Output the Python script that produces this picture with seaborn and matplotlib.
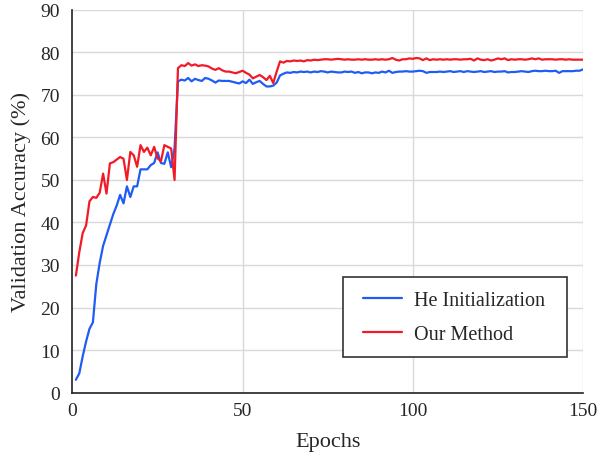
import numpy as np
import pandas as pd
import matplotlib
matplotlib.use("Agg")
import matplotlib.pyplot as plt
from matplotlib.patches import Rectangle
import seaborn as sns

# validation accuracy per epoch
epochs = list(range(1, 151))

he_init = [
    3.0, 4.5, 8.5, 12.0, 15.0, 16.5, 25.5, 30.5, 34.5, 37.0,
    39.5, 42.0, 44.0, 46.5, 44.5, 48.5, 46.0, 48.5, 48.5, 52.5,
    52.5, 52.5, 53.5, 54.0, 56.5, 54.0, 53.8, 56.5, 53.0, 57.5,
    73.2, 73.6, 73.4, 74.0, 73.2, 73.8, 73.5, 73.3, 74.0, 73.8,
    73.4, 72.9, 73.4, 73.3, 73.3, 73.3, 73.1, 72.9, 72.7, 73.2,
    72.8, 73.6, 72.6, 73.0, 73.3, 72.6, 72.0, 72.0, 72.2, 72.9,
    74.6, 75.0, 75.3, 75.2, 75.4, 75.3, 75.5, 75.4, 75.5, 75.3,
    75.5, 75.4, 75.6, 75.5, 75.3, 75.5, 75.4, 75.3, 75.3, 75.5,
    75.4, 75.5, 75.2, 75.4, 75.1, 75.3, 75.3, 75.1, 75.3, 75.2,
    75.5, 75.3, 75.7, 75.2, 75.4, 75.5, 75.5, 75.6, 75.5, 75.5,
    75.6, 75.7, 75.6, 75.2, 75.4, 75.4, 75.4, 75.5, 75.4, 75.5,
    75.6, 75.4, 75.5, 75.6, 75.4, 75.6, 75.5, 75.4, 75.5, 75.6,
    75.4, 75.5, 75.6, 75.4, 75.5, 75.5, 75.6, 75.3, 75.4, 75.4,
    75.5, 75.6, 75.5, 75.4, 75.6, 75.7, 75.6, 75.6, 75.7, 75.6,
    75.6, 75.7, 75.2, 75.6, 75.6, 75.6, 75.6, 75.7, 75.7, 76.0,
]

our_method = [
    27.5, 33.0, 37.5, 39.3, 45.0, 46.0, 45.8, 47.0, 51.5, 46.8,
    53.9, 54.2, 54.8, 55.4, 55.0, 50.0, 56.6, 55.8, 53.1, 58.2,
    56.6, 57.6, 55.8, 57.8, 55.1, 54.4, 58.2, 57.8, 57.4, 50.0,
    76.3, 77.0, 76.8, 77.5, 76.9, 77.2, 76.8, 77.0, 76.9, 76.7,
    76.2, 75.9, 76.3, 75.8, 75.5, 75.5, 75.3, 75.1, 75.4, 75.7,
    75.2, 74.8, 73.9, 74.3, 74.7, 74.2, 73.5, 74.5, 72.8, 75.5,
    77.9, 77.6, 78.0, 77.9, 78.1, 78.0, 78.1, 77.9, 78.2, 78.1,
    78.3, 78.2, 78.3, 78.4, 78.4, 78.3, 78.4, 78.5, 78.4, 78.3,
    78.4, 78.3, 78.3, 78.4, 78.3, 78.4, 78.3, 78.3, 78.4, 78.3,
    78.4, 78.3, 78.4, 78.7, 78.3, 78.1, 78.4, 78.4, 78.6, 78.5,
    78.7, 78.6, 78.2, 78.6, 78.2, 78.4, 78.3, 78.4, 78.3, 78.4,
    78.3, 78.4, 78.4, 78.3, 78.4, 78.4, 78.5, 78.1, 78.6, 78.3,
    78.2, 78.4, 78.1, 78.3, 78.6, 78.4, 78.6, 78.2, 78.4, 78.3,
    78.4, 78.4, 78.3, 78.4, 78.6, 78.4, 78.6, 78.3, 78.4, 78.4,
    78.4, 78.3, 78.4, 78.4, 78.3, 78.4, 78.3, 78.3, 78.3, 78.3,
]

series_names = ["He Initialization", "Our Method"]

df = pd.DataFrame({
    "Epochs": epochs * 2,
    "Accuracy": he_init + our_method,
    "Method": [series_names[0]] * len(epochs) + [series_names[1]] * len(epochs),
})

sns.set_style("white")
plt.rcParams["font.family"] = ["Liberation Serif", "DejaVu Serif"]

fig = plt.figure(figsize=(5.97, 4.56), dpi=100)
ax = fig.add_axes([0.1214, 0.137, 0.855, 0.839])

# grid first so the lines sit on top
for yv in range(10, 91, 10):
    ax.axhline(yv, color="#d9d9d9", lw=1.0, zorder=0)
for xv in [50, 100, 150]:
    ax.axvline(xv, color="#d9d9d9", lw=1.0, zorder=0)

sns.lineplot(data=df, x="Epochs", y="Accuracy", hue="Method",
             palette={"He Initialization": "#1f5cf5", "Our Method": "#f21a26"},
             linewidth=1.6, ax=ax)

ax.set_xlim(0, 150)
ax.set_ylim(0, 90)
ax.set_xticks([0, 50, 100, 150])
ax.set_yticks(range(0, 91, 10))
ax.tick_params(axis="y", labelsize=14, length=0, pad=9)
ax.tick_params(axis="x", labelsize=14, length=0, pad=7)
ax.set_xlabel("Epochs", fontsize=16, labelpad=9)
ax.set_ylabel("Validation Accuracy (%)", fontsize=16, labelpad=7)

for side in ["top", "right"]:
    ax.spines[side].set_visible(False)
for side in ["left", "bottom"]:
    ax.spines[side].set_color("#222222")
    ax.spines[side].set_linewidth(1.2)

# legend box drawn separately: it is wider than tall compared to mpl's padding
ax.add_patch(Rectangle((0.530, 0.093), 0.439, 0.209, transform=ax.transAxes,
                       facecolor="white", edgecolor="#333333", lw=1.2, zorder=4))
leg = ax.legend(loc="center left", bbox_to_anchor=(0.569, 0.197), borderaxespad=0,
                fontsize=14.5, frameon=False, handlelength=1.95,
                handletextpad=0.6, borderpad=0, labelspacing=0.75, title=None)
leg.set_zorder(5)

fig.savefig("out.png", dpi=100)
